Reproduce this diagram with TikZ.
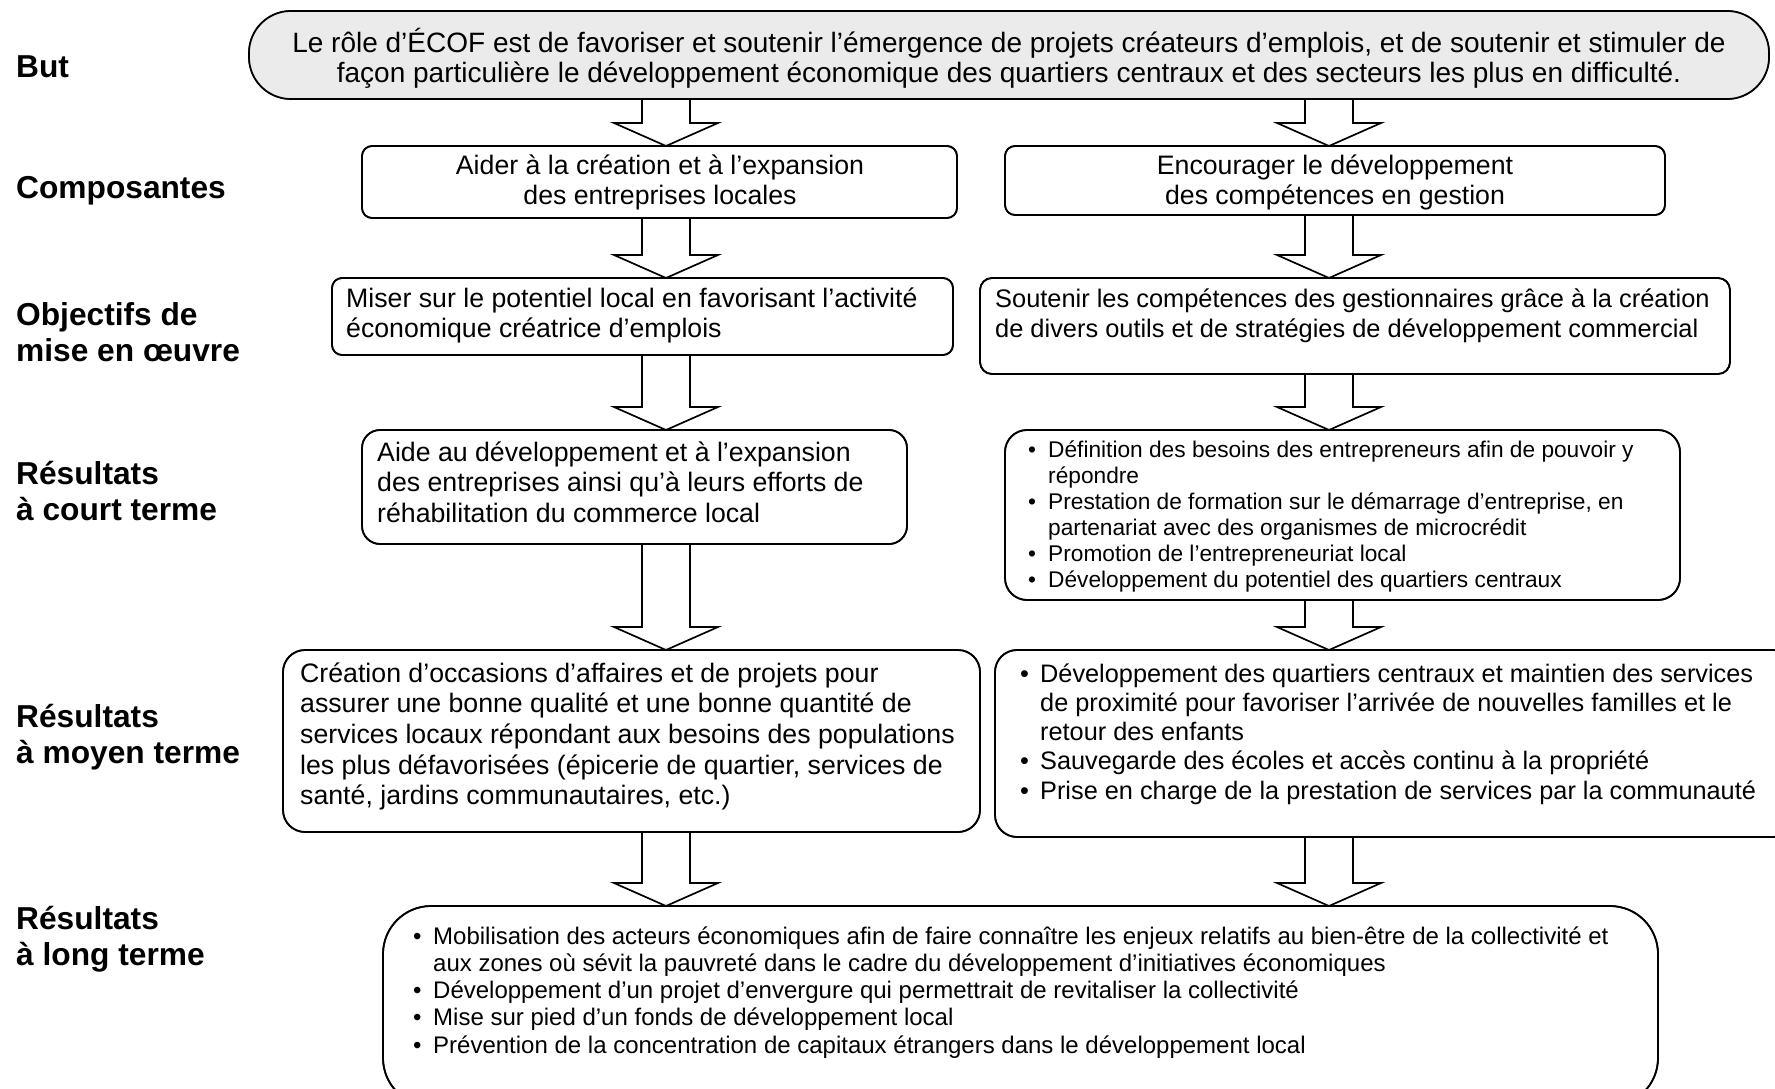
\documentclass[tikz,border=0pt]{standalone}
\usepackage{fontspec}
\setmainfont{Liberation Sans}
\usetikzlibrary{calc}
\definecolor{topfill}{RGB}{235,235,235}
\newcommand\fl{\rule{0pt}{27pt}}
\newcommand\bul{\makebox[20pt][l]{•}}
\newcommand\ind{\hspace*{20pt}}
\newcommand\myarrow[2]{\path[barrow] let \p1=#1, \p2=#2 in
  (\x1-24pt,\y1) -- (\x1-24pt,\y2+23pt) -- (\x1-52pt,\y2+23pt) -- (\x1,\y2)
  -- (\x1+52pt,\y2+23pt) -- (\x1+24pt,\y2+23pt) -- (\x1+24pt,\y1) -- cycle;}
\begin{document}
\begin{tikzpicture}[x=1pt,y=-1pt,
  box/.style={draw, line width=1.7pt, rounded corners=#1, inner sep=0pt, outer sep=0pt, anchor=north west},
  box/.default=10pt,
  txt/.style={inner sep=0pt, anchor=north west, align=left, font=\fontsize{26.7}{30.6}\selectfont},
  ctxt/.style={txt, anchor=north, align=center},
  lbl/.style={inner sep=0pt, anchor=west, align=left, font=\fontsize{31.7}{36.2}\selectfont\bfseries},
  barrow/.style={draw, line width=1.7pt, fill=white, line join=miter}]
\useasboundingbox (0,0) rectangle (1775,1089);
\clip (0,0) rectangle (1775,1089);
\coordinate (cl) at (666,0);
\coordinate (cr) at (1329,0);

% labels
\node[lbl] (lbut) at (16,67) {But};
\node[lbl] (lcomp) at (16,191) {Composantes};
\node[lbl] (lobj) at (16,332) {Objectifs de\\mise en œuvre};
\node[lbl] (lcourt) at (16,491) {Résultats\\à court terme};
\node[lbl] (lmoy) at (16,737) {Résultats\\à moyen terme};
\node[lbl] (llong) at (16,939) {Résultats\\à long terme};

% box geometry (nodes)
\path
  (249,11) node[box=42pt, minimum width=1520pt, minimum height=88pt] (top) {}
  (362,146) node[box, minimum width=595pt, minimum height=72pt] (compL) {}
  (1005,146) node[box, minimum width=660pt, minimum height=69pt] (compR) {}
  (332,278) node[box, minimum width=621pt, minimum height=77pt] (objL) {}
  (980,278) node[box=12pt, minimum width=750pt, minimum height=96pt] (objR) {}
  (362,430) node[box=18pt, minimum width=545pt, minimum height=114pt] (courtL) {}
  (1005,430) node[box=22pt, minimum width=675pt, minimum height=170pt] (courtR) {}
  (283,650) node[box=22pt, minimum width=697pt, minimum height=182pt] (moyL) {}
  (995,650) node[box=22pt, minimum width=800pt, minimum height=187pt] (moyR) {}
  (383,906) node[box=48pt, minimum width=1275pt, minimum height=200pt] (long) {};

% arrows (drawn under box borders)
\myarrow{(top.south -| cl)}{(compL.north -| cl)}
\myarrow{(top.south -| cr)}{(compR.north -| cr)}
\myarrow{(compL.south -| cl)}{(objL.north -| cl)}
\myarrow{(compR.south -| cr)}{(objR.north -| cr)}
\myarrow{(objL.south -| cl)}{(courtL.north -| cl)}
\myarrow{(objR.south -| cr)}{(courtR.north -| cr)}
\myarrow{(courtL.south -| cl)}{(moyL.north -| cl)}
\myarrow{(courtR.south -| cr)}{(moyR.north -| cr)}
\myarrow{(moyL.south -| cl)}{(long.north -| cl)}
\myarrow{(moyR.south -| cr)}{(long.north -| cr)}

% redraw box borders on top
\draw[line width=1.7pt, rounded corners=42pt, fill=topfill] (top.north west) rectangle (top.south east);
\foreach \n/\r in {compL/10pt, compR/10pt, objL/10pt, objR/12pt, courtL/18pt, courtR/22pt, moyL/22pt, moyR/22pt, long/48pt}
  \draw[line width=1.7pt, rounded corners=\r] (\n.north west) rectangle (\n.south east);

% texts
\node[ctxt, font=\fontsize{28}{30.6}\selectfont] (topT) at (1009,25)
  {\fl Le rôle d’ÉCOF est de favoriser et soutenir l’émergence de projets créateurs d’emplois, et de soutenir et stimuler de\\façon particulière le développement économique des quartiers centraux et des secteurs les plus en difficulté.};
\node[ctxt] (compLT) at (660,147) {\fl Aider à la création et à l’expansion\\des entreprises locales};
\node[ctxt] (compRT) at (1335,147) {\fl Encourager le développement\\des compétences en gestion};
\node[txt] (objLT) at (346,280) {\fl Miser sur le potentiel local en favorisant l’activité\\économique créatrice d’emplois};
\node[txt, font=\fontsize{25.4}{30.6}\selectfont] (objRT) at (995,280) {\fl Soutenir les compétences des gestionnaires grâce à la création\\de divers outils et de stratégies de développement commercial};
\node[txt] (courtLT) at (377,434) {\fl Aide au développement et à l’expansion\\des entreprises ainsi qu’à leurs efforts de\\réhabilitation du commerce local};
\node[txt, font=\fontsize{22.7}{26}\selectfont] (courtRT) at (1028,430)
  {\fl\bul Définition des besoins des entrepreneurs afin de pouvoir y\\
   \ind répondre\\
   \bul Prestation de formation sur le démarrage d’entreprise, en\\
   \ind partenariat avec des organismes de microcrédit\\
   \bul Promotion de l’entrepreneuriat local\\
   \bul Développement du potentiel des quartiers centraux};
\node[txt] (moyLT) at (300,655) {\fl Création d’occasions d’affaires et de projets pour\\assurer une bonne qualité et une bonne quantité de\\services locaux répondant aux besoins des populations\\les plus défavorisées (épicerie de quartier, services de\\santé, jardins communautaires, etc.)};
\node[txt, font=\fontsize{25.3}{29.2}\selectfont] (moyRT) at (1020,655)
  {\fl\bul Développement des quartiers centraux et maintien des services\\
   \ind de proximité pour favoriser l’arrivée de nouvelles familles et le\\
   \ind retour des enfants\\
   \bul Sauvegarde des écoles et accès continu à la propriété\\
   \bul Prise en charge de la prestation de services par la communauté};
\node[txt, font=\fontsize{24}{27.2}\selectfont] (longT) at (413,917)
  {\fl\bul Mobilisation des acteurs économiques afin de faire connaître les enjeux relatifs au bien-être de la collectivité et\\
   \ind aux zones où sévit la pauvreté dans le cadre du développement d’initiatives économiques\\
   \bul Développement d’un projet d’envergure qui permettrait de revitaliser la collectivité\\
   \bul Mise sur pied d’un fonds de développement local\\
   \bul Prévention de la concentration de capitaux étrangers dans le développement local};
\end{tikzpicture}
\end{document}
